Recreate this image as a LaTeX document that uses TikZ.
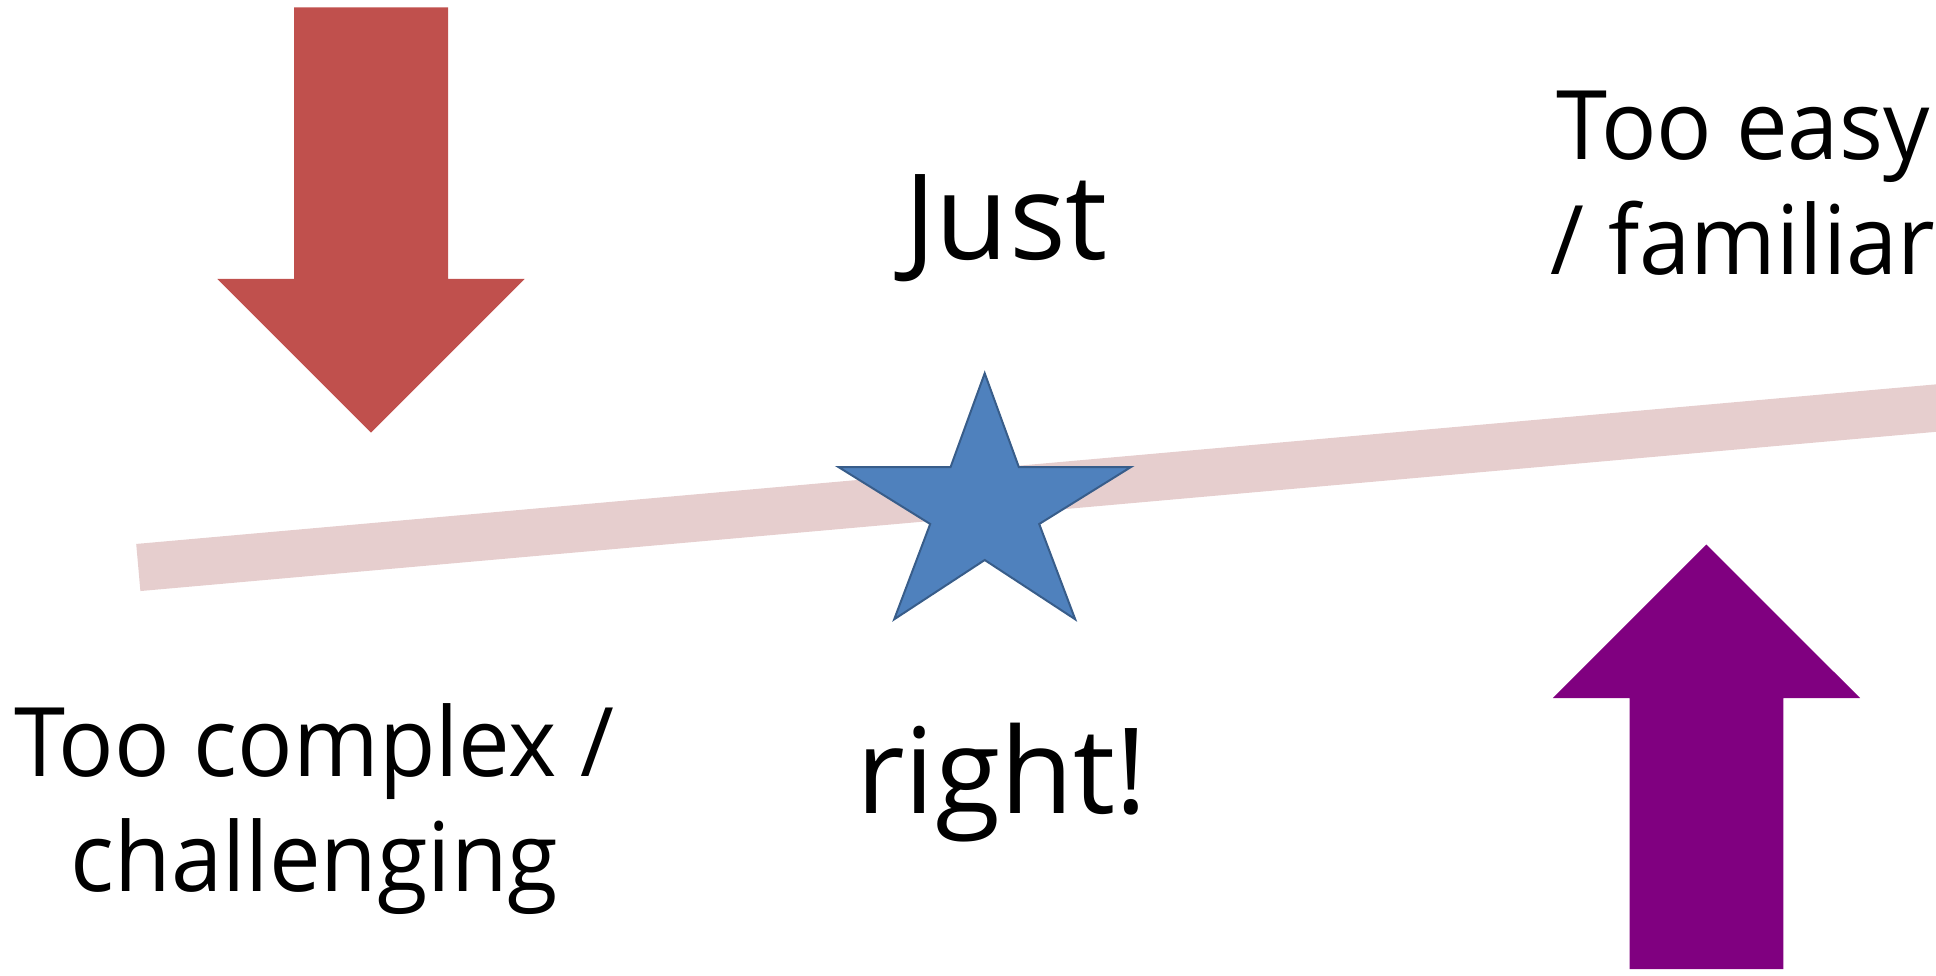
\documentclass[tikz,border=0pt]{standalone}
\usepackage{fontspec}
\setmainfont{Open Sans}
\newfontfamily\sidefont[FakeStretch=0.96]{Open Sans}
\definecolor{downred}{HTML}{C0504D}
\definecolor{uppurple}{HTML}{800080}
\definecolor{starfill}{HTML}{4F81BD}
\definecolor{starline}{HTML}{385D8A}
\definecolor{bandpink}{RGB}{230,206,206}
\begin{document}
\begin{tikzpicture}[x=1pt,y=-1pt,
  blockarrow/.style={draw=none},
  sidelabel/.style={font=\sidefont\fontsize{96}{115}\selectfont, inner sep=0pt, anchor=base, align=center},
  midword/.style={font=\fontsize{119}{140}\selectfont, inner sep=0pt, anchor=base}]
  \useasboundingbox (0,0) rectangle (1936,976);

  % slanted level band
  \draw[bandpink, line width=47.3pt, line cap=butt] (138.3,567.5) -- (1990,403.3);

  % downward arrow (too hard)
  \fill[downred, blockarrow] (294,7.4) -- (448,7.4) -- (448,279) -- (524.7,279)
    -- (371,432.7) -- (217.3,279) -- (294,279) -- cycle;

  % upward arrow (too easy)
  \fill[uppurple, blockarrow] (1629.5,969) -- (1783.3,969) -- (1783.3,698) -- (1860,698)
    -- (1706.4,544.5) -- (1552.8,698) -- (1629.5,698) -- cycle;

  % star marking the sweet spot
  \filldraw[fill=starfill, draw=starline, line width=2pt, line join=miter]
    (984.7,373.3) -- (1018.8,467) -- (1131,467) -- (1039.2,524) -- (1075.2,619.3)
    -- (984.7,560) -- (894.2,619.3) -- (930.2,524) -- (838.4,467) -- (950.6,467) -- cycle;

  % labels (a two-line node sits on the baseline of its last line)
  \node[midword] (just) at (1006,260) {Just};
  \node[midword] (right) at (1001.7,813.3) {right!};
  \node[sidelabel] (hard) at (314.5,891.7) {Too complex /\\challenging};
  \node[sidelabel] (easy) at (1743,275) {Too easy\\/ familiar};
\end{tikzpicture}
\end{document}
